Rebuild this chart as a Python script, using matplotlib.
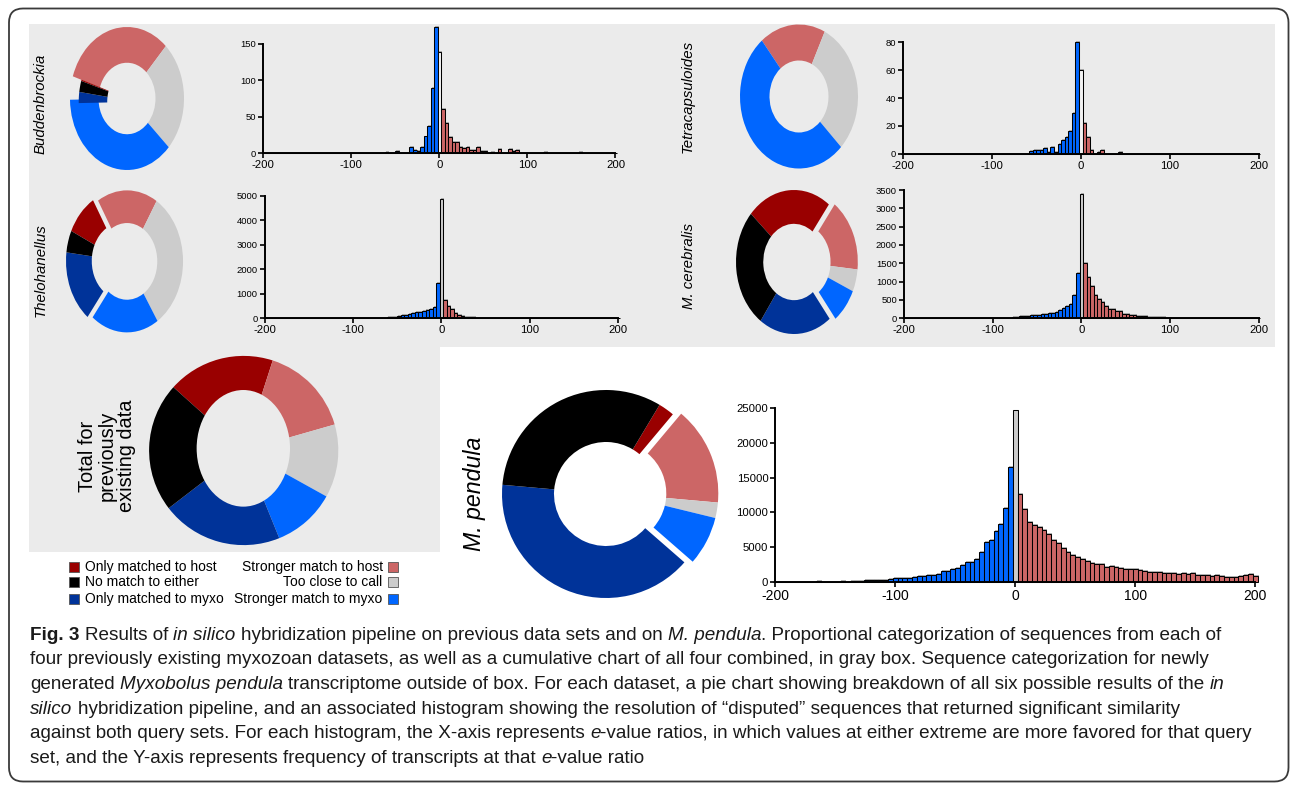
import numpy as np
import matplotlib
matplotlib.use("Agg")
import matplotlib.pyplot as plt
import matplotlib.patheffects as pe
from matplotlib import font_manager as fm
from matplotlib.patches import FancyBboxPatch, Rectangle, Ellipse

_names = {f.name for f in fm.fontManager.ttflist}
BASE = 'Liberation Sans' if 'Liberation Sans' in _names else 'DejaVu Sans'
NARROW = 'Liberation Sans Narrow' if 'Liberation Sans Narrow' in _names else BASE
HAS_NARROW = NARROW != BASE
plt.rcParams['font.family'] = [BASE]
plt.rcParams['axes.unicode_minus'] = False

# ---------------- data ----------------
categories = ["Only matched to host", "Stronger match to host", "Too close to call",
              "Stronger match to myxo", "Only matched to myxo", "No match to either"]
cat_colors = ['#990000', '#CC6666', '#CCCCCC', '#0066FF', '#003399', '#000000']

# pie shares (%) in order of categories (clockwise)
pie_buddenbrockia = [0.3, 31.9, 25.0, 37.8, 2.5, 2.5]
pie_tetracapsuloides = [0.0, 18.0, 30.2, 51.8, 0.0, 0.0]
pie_thelohanellus = [9.4, 17.5, 32.0, 19.7, 16.4, 5.0]
pie_cerebralis = [23.6, 16.4, 5.0, 7.8, 20.3, 26.9]
pie_total = [18.3, 15.6, 12.5, 10.8, 20.7, 22.1]
pie_pendula = [2.5, 15.3, 2.4, 7.6, 40.0, 32.2]

ratio_bins = np.arange(-200, 201, 4)   # e-value ratio bin centres
x_ticks = [-200, -100, 0, 100, 200]

hist_buddenbrockia = [
    0, 0, 0, 0, 0, 0, 0, 0, 0, 0,
    0, 0, 0, 0, 0, 0, 0, 0, 0, 0,
    0, 0, 0, 0, 0, 0, 0, 0, 0, 0,
    0, 0, 0, 0, 0, 2, 0, 0, 3, 0,
    0, 0, 8, 5, 3, 9, 23, 37, 89, 173,
    139,
    61, 41, 22, 15, 15, 9, 7, 9, 4, 4,
    9, 3, 3, 0, 2, 0, 6, 0, 0, 6,
    3, 4, 0, 0, 0, 0, 0, 0, 0, 2,
    0, 0, 0, 0, 0, 0, 0, 0, 0, 2,
    0, 0, 0, 0, 0, 0, 0, 0, 0, 0]
hist_tetracapsuloides = [
    0, 0, 0, 0, 0, 0, 0, 0, 0, 0,
    0, 0, 0, 0, 0, 0, 0, 0, 0, 0,
    0, 0, 0, 0, 0, 0, 0, 0, 0, 0,
    0, 0, 0, 0, 0, 0, 2, 3, 3, 3,
    4, 1, 5, 1, 7, 10, 12, 16, 29, 80,
    60,
    22, 12, 3, 0, 1, 3, 0, 0, 0, 0,
    1, 0, 0, 0, 0, 0, 0, 0, 0, 0,
    0, 0, 0, 0, 0, 0, 0, 0, 0, 0,
    0, 0, 0, 0, 0, 0, 0, 0, 0, 0,
    0, 0, 0, 0, 0, 0, 0, 0, 0, 0]
hist_thelohanellus = [
    10, 10, 5, 15, 10, 10, 5, 10, 10, 5,
    10, 5, 10, 10, 5, 10, 10, 10, 5, 10,
    10, 10, 5, 10, 10, 10, 10, 15, 10, 10,
    10, 10, 10, 14, 27, 40, 54, 68, 95, 122,
    136, 177, 217, 245, 258, 300, 340, 367, 448, 1427,
    4850,
    734, 503, 367, 231, 136, 95, 68, 54, 40, 27,
    20, 15, 12, 10, 8, 8, 5, 5, 5, 5,
    5, 5, 5, 5, 5, 5, 5, 5, 5, 5,
    5, 5, 5, 5, 5, 5, 5, 5, 5, 5,
    5, 5, 5, 5, 5, 5, 5, 5, 5, 5]
hist_cerebralis = [
    5, 5, 5, 5, 5, 5, 5, 5, 5, 5,
    5, 5, 5, 5, 5, 5, 5, 5, 5, 5,
    5, 5, 5, 5, 10, 10, 10, 10, 10, 14,
    18, 27, 36, 55, 64, 73, 82, 91, 100, 118,
    127, 136, 155, 182, 227, 291, 345, 382, 627, 1227,
    3390,
    1509, 1127, 882, 636, 527, 436, 336, 264, 264, 191,
    191, 127, 118, 100, 82, 64, 55, 55, 45, 36,
    36, 27, 27, 18, 9, 5, 5, 5, 5, 5,
    5, 5, 5, 5, 5, 5, 5, 5, 5, 5,
    5, 5, 5, 5, 5, 5, 5, 5, 5, 5]
hist_pendula = [
    0, 0, 0, 0, 0, 0, 0, 50, 50, 140,
    100, 100, 100, 100, 140, 100, 140, 140, 190, 290,
    290, 290, 290, 330, 430, 620, 570, 620, 620, 710,
    860, 860, 1050, 1050, 1190, 1570, 1570, 1900, 2050, 2480,
    2860, 2900, 3380, 4330, 5760, 6100, 7330, 8380, 10700, 16480,
    24600,
    12710, 10480, 8620, 8190, 7900, 7430, 6950, 6050, 5620, 4900,
    4330, 3900, 3620, 3290, 3050, 2760, 2620, 2570, 2190, 2330,
    2190, 2100, 1900, 1950, 1860, 1760, 1670, 1520, 1520, 1480,
    1330, 1330, 1290, 1190, 1290, 1240, 1290, 1050, 1050, 1000,
    950, 1000, 950, 760, 810, 810, 900, 1000, 1240, 860]

# ---------------- figure ----------------
W, H = 1292, 786
BG = '#EBEBEB'
fig = plt.figure(figsize=(W / 100, H / 100), dpi=100)


def px_axes(x0, y0, x1, y1):
    """axes from pixel box (top-left origin)"""
    return fig.add_axes([x0 / W, 1 - y1 / H, (x1 - x0) / W, (y1 - y0) / H])


bg = fig.add_axes([0, 0, 1, 1])
bg.set_xlim(0, W)
bg.set_ylim(H, 0)
bg.axis('off')
bg.add_patch(FancyBboxPatch((9, 8.5), 1279.5, 773, boxstyle="round,pad=0,rounding_size=14",
                            fc='white', ec='#3a3a3a', lw=1.3))
bg.add_patch(Rectangle((29, 24), 1246, 323, fc=BG, ec='none'))
bg.add_patch(Rectangle((29, 347), 411, 205, fc=BG, ec='none'))


def draw_pie(cx, cy, rx, ry, vals, start, hole, group=None, shift=0.0, hole_color=BG, ell_hole=None):
    L = 1.3
    ax = px_axes(cx - L * rx, cy - L * ry, cx + L * rx, cy + L * ry)
    wp = dict(linewidth=0) if ell_hole else dict(width=1 - hole, linewidth=0)
    w1, _ = ax.pie(vals, colors=cat_colors, startangle=start, counterclock=False,
                   radius=1, wedgeprops=wp)
    if group:
        tot = float(sum(vals))
        cum = np.cumsum([0] + list(vals)) / tot
        a0 = cum[min(group)]
        a1 = cum[max(group) + 1]
        mid = np.deg2rad(start - 360 * (a0 + a1) / 2)
        w2, _ = ax.pie(vals, colors=cat_colors, startangle=start, counterclock=False,
                       radius=1, wedgeprops=wp,
                       center=(shift * np.cos(mid), shift * np.sin(mid)))
        for i in range(len(vals)):
            if i in group:
                w1[i].set_visible(False)
            else:
                w2[i].set_visible(False)
    if ell_hole:
        ax.add_patch(Ellipse(ell_hole[0], ell_hole[1], ell_hole[2], fc=hole_color, ec='none'))
    ax.set_aspect('auto')
    ax.set_xlim(-L, L)
    ax.set_ylim(-L, L)
    ax.axis('off')
    return ax


draw_pie(127, 98.5, 57, 71.5, pie_buddenbrockia, 163, 0.5, group=[0, 4, 5], shift=0.16)
draw_pie(799, 96.5, 59, 72, pie_tetracapsuloides, 129, 0.5)
draw_pie(122, 261, 56, 71, pie_thelohanellus, 155, 0.54, group=[1, 2, 3], shift=0.09)
draw_pie(794, 262, 58, 72, pie_cerebralis, 138, 0.53, group=[1, 2, 3], shift=0.1)
draw_pie(243.7, 450.5, 94.6, 94.6, pie_total, 138, 0.5,
         ell_hole=((-0.004, 0.023), 0.987, 1.233))
draw_pie(606, 494, 104, 104, pie_pendula, 59, 0.5, group=[1, 2, 3], shift=0.08, hole_color='white')

BLUE, SALMON, GREY = cat_colors[3], cat_colors[1], cat_colors[2]
shadow = [pe.SimplePatchShadow(offset=(0.7, 0.7), shadow_rgbFace='#777777', alpha=0.55), pe.Normal()]


def draw_hist(xl, xr, y0, yt, vals, ymax, yticks, zero_col, xsize, ysize):
    ax = px_axes(xl, yt, xr, y0)
    cols = [BLUE if c < 0 else (zero_col if c == 0 else SALMON) for c in ratio_bins]
    bars = ax.bar(ratio_bins, vals, width=4, color=cols, edgecolor='black', linewidth=0.75,
                  clip_on=False, zorder=2)
    for b in bars:
        b.set_path_effects(shadow)
    ax.set_xlim(-200, 200)
    ax.set_ylim(0, ymax)
    ax.set_facecolor('none')
    for s in ['top', 'right']:
        ax.spines[s].set_visible(False)
    for s in ['left', 'bottom']:
        ax.spines[s].set_linewidth(1.4)
        ax.spines[s].set_zorder(3)
    ax.set_xticks(x_ticks)
    ax.set_yticks(yticks)
    ax.tick_params(direction='out', length=3.5, width=1.2, pad=1.5, colors='black')
    for lab in ax.get_xticklabels():
        lab.set_fontfamily(NARROW)
        lab.set_fontsize(xsize)
    for lab in ax.get_yticklabels():
        lab.set_fontfamily(NARROW)
        lab.set_fontsize(ysize)
    return ax


xs = 9 if HAS_NARROW else 8.2
ys = 7.5 if HAS_NARROW else 6.8
draw_hist(263.3, 615.5, 153.3, 43.7, hist_buddenbrockia, 150, [0, 50, 100, 150], '#F2F2F2', xs, ys)
draw_hist(902.8, 1258.7, 153.7, 42.3, hist_tetracapsuloides, 80, [0, 20, 40, 60, 80], '#F2F2F2', xs, ys)
draw_hist(264.5, 618.4, 318.3, 195.7, hist_thelohanellus, 5000, [0, 1000, 2000, 3000, 4000, 5000], GREY, xs, ys)
draw_hist(904, 1258.7, 318.3, 190, hist_cerebralis, 3500, [0, 500, 1000, 1500, 2000, 2500, 3000, 3500], GREY, xs, ys)
draw_hist(775.3, 1255.2, 582.3, 407.7, hist_pendula, 25000, [0, 5000, 10000, 15000, 20000, 25000], GREY,
          11 if HAS_NARROW else 10, 9 if HAS_NARROW else 8.2)

# species labels
lab_kw = dict(rotation=90, ha='center', va='center', fontstyle='italic', color='black')
bg.text(41, 103.5, 'Buddenbrockia', fontsize=10.8, **lab_kw)
bg.text(688, 96, 'Tetracapsuloides', fontsize=10.8, **lab_kw)
bg.text(41, 270, 'Thelohanellus', fontsize=10.8, **lab_kw)
bg.text(689, 266, 'M. cerebralis', fontsize=10.8, **lab_kw)
bg.text(475, 494, 'M. pendula', fontsize=16.7, **lab_kw)
bg.text(107, 456, 'Total for\npreviously\nexisting data', rotation=90, ha='center', va='center',
        fontsize=14.4, linespacing=1.05, multialignment='center')

# legend
rows_y = [566.7, 582.3, 599.3]
left_items = [0, 5, 4]
right_items = [1, 2, 3]
for y, i in zip(rows_y, left_items):
    bg.add_patch(Rectangle((69, y - 5), 10, 10, fc=cat_colors[i], ec='#555555', lw=0.6))
    bg.text(85, y, categories[i], fontsize=10, ha='left', va='center')
for y, i in zip(rows_y, right_items):
    bg.add_patch(Rectangle((388, y - 5), 10, 10, fc=cat_colors[i], ec='#555555', lw=0.6))
    bg.text(382.7, y, categories[i], fontsize=10, ha='right', va='center')

# caption
caption_lines = [
    [("Fig. 3", 'b'), (" Results of ", 'n'), ("in silico", 'i'),
     (" hybridization pipeline on previous data sets and on ", 'n'), ("M. pendula", 'i'),
     (". Proportional categorization of sequences from each of", 'n')],
    [("four previously existing myxozoan datasets, as well as a cumulative chart of all four combined, "
      "in gray box. Sequence categorization for newly", 'n')],
    [("generated ", 'n'), ("Myxobolus pendula", 'i'),
     (" transcriptome outside of box. For each dataset, a pie chart showing breakdown of all six "
      "possible results of the ", 'n'), ("in", 'i')],
    [("silico", 'i'), (" hybridization pipeline, and an associated histogram showing the resolution of "
                        "\u201cdisputed\u201d sequences that returned significant similarity", 'n')],
    [("against both query sets. For each histogram, the X-axis represents ", 'n'), ("e", 'i'),
     ("-value ratios, in which values at either extreme are more favored for that query", 'n')],
    [("set, and the Y-axis represents frequency of transcripts at that ", 'n'), ("e", 'i'),
     ("-value ratio", 'n')],
]
CAP_FONT = NARROW
renderer = fig.canvas.get_renderer()


def style_kw(st, size):
    kw = dict(fontsize=size, family=CAP_FONT, color='#1a1a1a', ha='left', va='baseline')
    if st == 'b':
        kw['fontweight'] = 'bold'
    if st == 'i':
        kw['fontstyle'] = 'italic'
    return kw


def text_w(s, st, size):
    t = bg.text(0, 0, s, **style_kw(st, size))
    w = t.get_window_extent(renderer=renderer).width
    t.remove()
    return w


def seg_width(s, st, size):
    core = s.strip(' ')
    nlead = len(s) - len(s.lstrip(' '))
    ntrail = len(s) - len(s.rstrip(' '))
    sp = text_w('a a', 'n', size) - text_w('aa', 'n', size)
    return core, nlead * sp, (text_w(core, st, size) if core else 0), ntrail * sp


def line_width(segs, size):
    tot = 0
    for s, st in segs:
        _, a, b, c = seg_width(s, st, size)
        tot += a + b + c
    return tot


size0 = 11
target = 1190.0
cap_size = size0 * target / line_width(caption_lines[0], size0)
baselines = [639.5, 664.5, 689, 713.5, 738.5, 763]
for segs, yb in zip(caption_lines, baselines):
    x = 30.0
    for s, st in segs:
        core, a, b, c = seg_width(s, st, cap_size)
        x += a
        if core:
            bg.text(x, yb, core, **style_kw(st, cap_size))
        x += b + c

fig.savefig('out.png', dpi=100)
